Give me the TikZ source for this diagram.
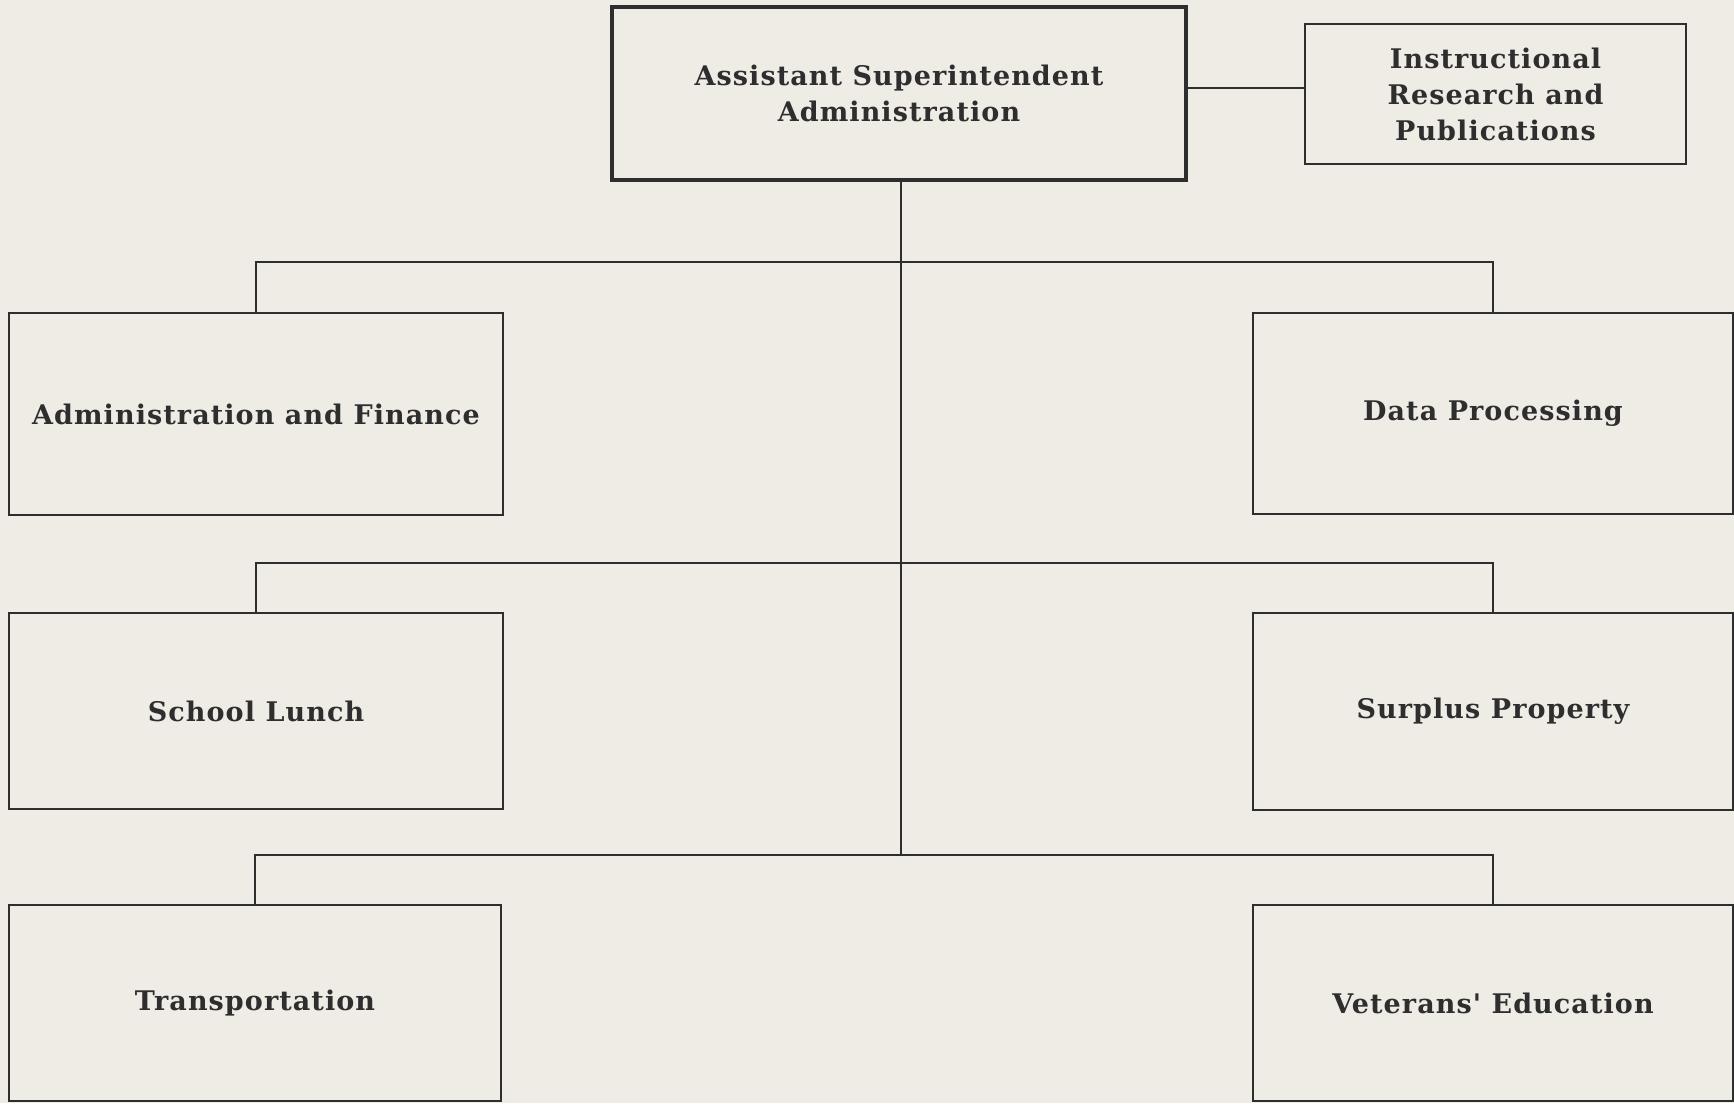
\documentclass[tikz,border=0pt]{standalone}
\usepackage{fontspec}
\setmainfont{DejaVu Serif}
% box lettering: straight apostrophe, slightly opened tracking
\newfontfamily\boxfont{DejaVu Serif}[Ligatures=TeXOff, LetterSpace=4]
\definecolor{paper}{HTML}{EEECE5}
\definecolor{ink}{HTML}{2E2E2E}
\begin{document}
\begin{tikzpicture}[x=1pt,y=-1pt,
  unit/.style={draw=ink, line width=2pt, rectangle, inner sep=0pt, align=center,
    text=ink, font=\boxfont\fontsize{27}{36}\selectfont\bfseries},
  head/.style={unit, line width=3.2pt},
  link/.style={draw=ink, line width=2pt}]
% page
\fill[paper] (0,0) rectangle (1734,1103);
\useasboundingbox (0,0) rectangle (1734,1103);

% boxes
\node[head, minimum width=574pt, minimum height=173pt] (top) at (899,93.5)
  {Assistant Superintendent\\Administration};
\node[unit, minimum width=381pt, minimum height=140pt] (irp) at (1495.5,94)
  {Instructional\\Research and\\Publications};
\node[unit, minimum width=494pt, minimum height=202pt] (af) at (256,414)
  {Administration and Finance};
\node[unit, minimum width=480pt, minimum height=201pt] (dp) at (1493,413.5)
  {Data Processing};
\node[unit, minimum width=494pt, minimum height=196pt] (sl) at (256,711)
  {School Lunch};
\node[unit, minimum width=480pt, minimum height=197pt] (sp) at (1493,711.5)
  {Surplus Property};
\node[unit, minimum width=492pt, minimum height=196pt] (tr) at (255,1003)
  {Transportation};
\node[unit, minimum width=480pt, minimum height=196pt] (ve) at (1493,1003)
  {Veterans' Education};

% branch levels on the trunk
\coordinate (b1) at (901,262);
\coordinate (b2) at (901,563);
\coordinate (b3) at (901,855);

% connectors
\draw[link] ([yshift=6pt]irp.west) -- ([yshift=6pt]irp.west -| top.east);
\draw[link] (top.south -| b1) -- (b3);
\draw[link] (af.north) |- (b1) -| (dp.north);
\draw[link] (sl.north) |- (b2) -| (sp.north);
\draw[link] (tr.north) |- (b3) -| (ve.north);
\end{tikzpicture}
\end{document}
